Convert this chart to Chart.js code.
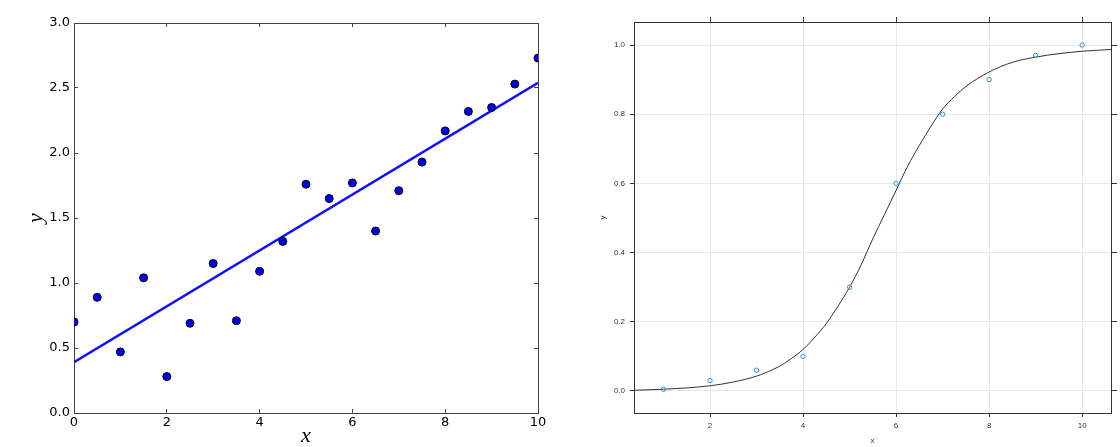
<!DOCTYPE html>
<html>
<head>
<meta charset="utf-8">
<script src="https://cdn.jsdelivr.net/npm/chart.js@4/dist/chart.umd.min.js"></script>
<style>
  body { margin: 0; background: #fff; }
  #wrap { position: relative; width: 1120px; height: 447px; overflow: hidden; }
  canvas { position: absolute; top: 0; }
  #left { left: 0; }
  #right { left: 560px; }
</style>
</head>
<body>
<div id="wrap">
  <canvas id="left" width="560" height="447"></canvas>
  <canvas id="right" width="560" height="447"></canvas>
</div>
<script>
// left panel: noisy points + straight fit
const scatterX = [0, 0.5, 1, 1.5, 2, 2.5, 3, 3.5, 4, 4.5, 5, 5.5, 6, 6.5, 7, 7.5, 8, 8.5, 9, 9.5, 10];
const scatterY = [0.70, 0.89, 0.47, 1.04, 0.28, 0.69, 1.15, 0.71, 1.09, 1.32, 1.76, 1.65, 1.77, 1.40, 1.71, 1.93, 2.17, 2.32, 2.35, 2.53, 2.73];
const fitX = [0, 10];
const fitY = [0.39, 2.54];
const leftXTicks = [0, 2, 4, 6, 8, 10];
const leftYTicks = [0, 0.5, 1.0, 1.5, 2.0, 2.5, 3.0];

// right panel: logistic points + fitted curve
const logX = [1, 2, 3, 4, 5, 6, 7, 8, 9, 10];
const logY = [0.005, 0.03, 0.06, 0.10, 0.30, 0.60, 0.80, 0.90, 0.97, 1.00];
const curveX = [0.37, 1, 1.5, 2, 2.5, 3, 3.5, 3.75, 4, 4.25, 4.5, 4.75, 5, 5.25, 5.5, 5.75, 6, 6.25, 6.5, 6.75, 7, 7.25, 7.5, 8, 8.5, 9, 9.5, 10, 10.62];
const curveY = [0.002, 0.005, 0.009, 0.015, 0.026, 0.043, 0.072, 0.094, 0.12, 0.155, 0.195, 0.245, 0.30, 0.365, 0.44, 0.51, 0.58, 0.65, 0.71, 0.765, 0.815, 0.85, 0.88, 0.922, 0.95, 0.965, 0.975, 0.982, 0.987];
const rightXTicks = [2, 4, 6, 8, 10];
const rightYTicks = [0, 0.2, 0.4, 0.6, 0.8, 1.0];

const zip = (xs, ys) => xs.map((x, i) => ({ x: x, y: ys[i] }));
const setTicks = vals => scale => { scale.ticks = vals.map(v => ({ value: v })); };
const fixW = w => scale => { scale.width = w; };
const fixH = h => scale => { scale.height = h; };

// ---- left chart (matplotlib look) ----
const mplFont = { family: 'DejaVu Sans', size: 13 };
const mathFont = { family: 'Liberation Serif', size: 22, style: 'italic', lineHeight: 1 };
const mplBorder = { display: true, color: '#444', width: 1 };
const mplGrid = { drawOnChartArea: false, drawTicks: true, tickLength: -4, color: '#444' };

new Chart(document.getElementById('left'), {
    type: 'scatter',
    data: {
        datasets: [
            {
                data: zip(scatterX, scatterY),
                backgroundColor: '#0000ee',
                borderColor: '#000',
                borderWidth: 1,
                pointRadius: 4,
                clip: 0,
                order: 0
            },
            {
                type: 'line',
                data: zip(fitX, fitY),
                borderColor: '#1010ff',
                borderWidth: 2.5,
                pointRadius: 0,
                fill: false,
                clip: 0,
                order: 1
            }
        ]
    },
    options: {
        responsive: false,
        animation: false,
        layout: { padding: 0 },
        plugins: { legend: { display: false }, tooltip: { enabled: false } },
        scales: {
            x: {
                type: 'linear', position: 'bottom', min: 0, max: 10,
                afterBuildTicks: setTicks(leftXTicks), afterFit: fixH(34),
                border: mplBorder, grid: mplGrid,
                ticks: { color: '#000', font: mplFont, padding: 6, maxRotation: 0, callback: v => String(v) },
                title: { display: true, text: 'x', color: '#000', font: mathFont, padding: { top: 0, bottom: 0 } }
            },
            x2: {
                type: 'linear', position: 'top', min: 0, max: 10,
                afterBuildTicks: setTicks(leftXTicks), afterFit: fixH(23),
                border: mplBorder, grid: mplGrid,
                ticks: { display: false }
            },
            y: {
                type: 'linear', position: 'left', min: 0, max: 3,
                afterBuildTicks: setTicks(leftYTicks), afterFit: fixW(74),
                border: mplBorder, grid: mplGrid,
                ticks: { color: '#000', font: mplFont, padding: 8, callback: v => v.toFixed(1) },
                title: { display: true, text: 'y', color: '#000', font: mathFont, padding: { top: 25, bottom: 0 } }
            },
            y2: {
                type: 'linear', position: 'right', min: 0, max: 3,
                afterBuildTicks: setTicks(leftYTicks), afterFit: fixW(22),
                border: mplBorder, grid: mplGrid,
                ticks: { display: false }
            }
        }
    }
});

// ---- right chart (lattice look) ----
const latFont = { family: 'Liberation Sans', size: 8 };
const latTitle = { family: 'Liberation Sans', size: 8, lineHeight: 1 };
const latBorder = { display: true, color: '#333', width: 1 };

new Chart(document.getElementById('right'), {
    type: 'scatter',
    data: {
        datasets: [
            {
                data: zip(logX, logY),
                backgroundColor: 'rgba(0,0,0,0)',
                borderColor: '#3b8fd1',
                borderWidth: 1,
                pointRadius: 2.2,
                order: 0
            },
            {
                type: 'line',
                data: zip(curveX, curveY),
                borderColor: '#333',
                borderWidth: 1,
                pointRadius: 0,
                fill: false,
                cubicInterpolationMode: 'monotone',
                clip: 0,
                order: 1
            }
        ]
    },
    options: {
        responsive: false,
        animation: false,
        layout: { padding: 0 },
        plugins: { legend: { display: false }, tooltip: { enabled: false } },
        scales: {
            x: {
                type: 'linear', position: 'bottom', min: 0.366, max: 10.62,
                afterBuildTicks: setTicks(rightXTicks), afterFit: fixH(34),
                border: latBorder,
                grid: { color: '#e8e8e8', tickColor: '#333', tickLength: 4, lineWidth: 1 },
                ticks: { color: '#333', font: latFont, padding: 4, maxRotation: 0, callback: v => String(v) },
                title: { display: true, text: 'x', color: '#333', font: latTitle, padding: { top: 0, bottom: 2 } }
            },
            x2: {
                type: 'linear', position: 'top', min: 0.366, max: 10.62,
                afterBuildTicks: setTicks(rightXTicks), afterFit: fixH(22),
                border: latBorder,
                grid: { drawOnChartArea: false, tickColor: '#333', tickLength: 5 },
                ticks: { display: false }
            },
            y: {
                type: 'linear', position: 'left', min: -0.0636, max: 1.0665,
                afterBuildTicks: setTicks(rightYTicks), afterFit: fixW(74),
                border: latBorder,
                grid: { color: '#e8e8e8', tickColor: '#333', tickLength: 4, lineWidth: 1 },
                ticks: { color: '#333', font: latFont, padding: 5, callback: v => v.toFixed(1) },
                title: { display: true, text: 'y', color: '#333', font: latTitle, padding: { top: 39, bottom: 0 } }
            },
            y2: {
                type: 'linear', position: 'right', min: -0.0636, max: 1.0665,
                afterBuildTicks: setTicks(rightYTicks), afterFit: fixW(9),
                border: latBorder,
                grid: { drawOnChartArea: false, tickColor: '#333', tickLength: 6 },
                ticks: { display: false }
            }
        }
    }
});
</script>
</body>
</html>
